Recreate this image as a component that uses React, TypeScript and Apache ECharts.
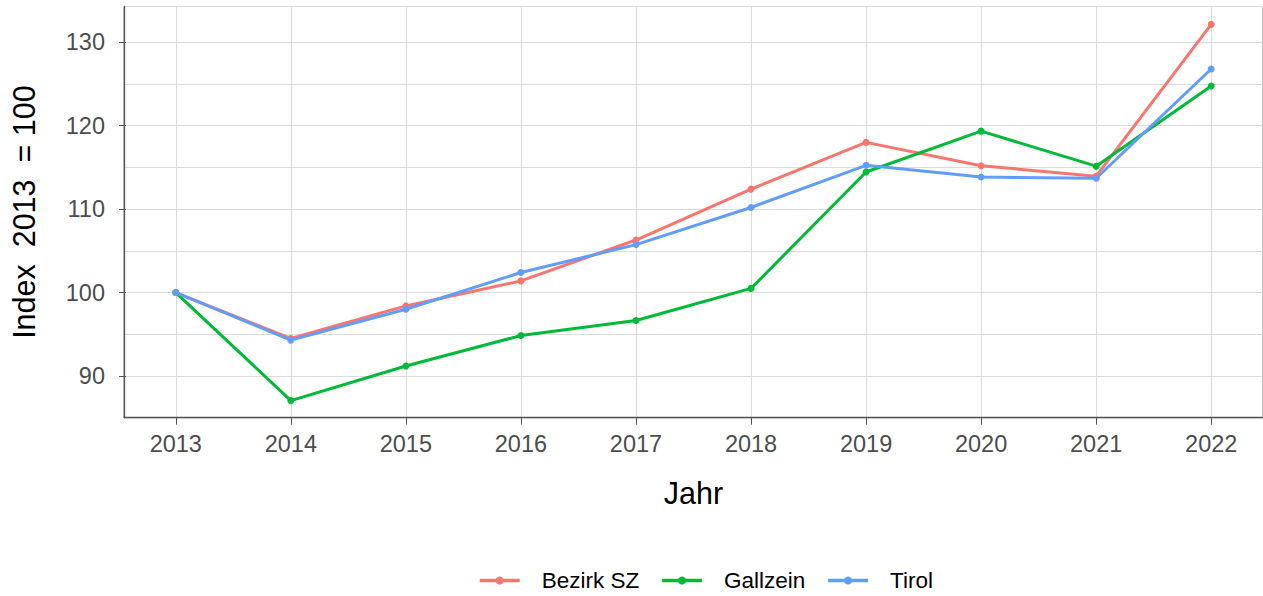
import React, { useEffect, useRef } from "react";
import * as echarts from "echarts";

const years = [2013, 2014, 2015, 2016, 2017, 2018, 2019, 2020, 2021, 2022];
const bezirkSZ = [100, 94.5, 98.4, 101.4, 106.3, 112.4, 118.0, 115.2, 113.95, 132.15];
const gallzein = [100, 87.05, 91.2, 94.85, 96.65, 100.5, 114.45, 119.35, 115.15, 124.75];
const tirol = [100, 94.3, 98.0, 102.4, 105.75, 110.2, 115.25, 113.85, 113.7, 126.8];
const yTicks = [90, 100, 110, 120, 130];
const seriesNames = ["Bezirk SZ", "Gallzein", "Tirol"];
const colors = ["#F8766D", "#00BA38", "#619CFF"];

const FONT = "Liberation Sans, Arial, sans-serif";

export default function App() {
  const ref = useRef<HTMLDivElement>(null);
  useEffect(() => {
    document.body.style.margin = "0";
    if (!ref.current) return;
    const chart = echarts.init(ref.current, undefined, { renderer: "svg" });
    const gridPos = { left: 124, top: 6.5, width: 1141, height: 411.2 };
    const yMin = 85;
    const yMax = 134.29;
    const xMin = 2012.55;
    const xMax = 2022.45;
    const allSeries = [bezirkSZ, gallzein, tirol];
    chart.setOption({
      animation: false,
      textStyle: { fontFamily: FONT },
      grid: [
        { ...gridPos, show: true, borderColor: "#8a8a8a", borderWidth: 1, backgroundColor: "transparent" },
        { ...gridPos, show: false },
      ],
      xAxis: [
        {
          type: "value",
          gridIndex: 0,
          min: xMin,
          max: xMax,
          name: "Jahr",
          nameLocation: "middle",
          nameGap: 60,
          nameTextStyle: { fontSize: 30.5, color: "#000", fontFamily: FONT },
          axisLine: { show: true, lineStyle: { color: "#555", width: 1.3 } },
          axisTick: { show: true, length: 7, customValues: years, lineStyle: { color: "#555" } },
          axisLabel: { customValues: years, fontSize: 23.5, color: "#4D4D4D", margin: 14, formatter: (v: number) => String(v), fontFamily: FONT },
          splitLine: { show: true, lineStyle: { color: "#DCDCDC", width: 1 } },
        },
        {
          type: "value",
          gridIndex: 1,
          min: xMin,
          max: xMax,
          show: false,
        },
      ],
      yAxis: [
        {
          type: "value",
          gridIndex: 0,
          min: yMin,
          max: yMax,
          interval: 5,
          axisLine: { show: true, lineStyle: { color: "#555", width: 1.3 } },
          axisTick: { show: false },
          axisLabel: { show: false },
          splitLine: { show: true, lineStyle: { color: "#DCDCDC", width: 1 } },
        },
        {
          type: "value",
          gridIndex: 1,
          min: yMin,
          max: yMax,
          name: "Index  2013  = 100",
          nameLocation: "middle",
          nameGap: 87,
          nameTextStyle: { fontSize: 30.5, color: "#000", fontFamily: FONT },
          axisLine: { show: false },
          axisTick: { show: true, length: 7, customValues: yTicks, lineStyle: { color: "#555" } },
          axisLabel: { customValues: yTicks, fontSize: 23.5, color: "#4D4D4D", margin: 21, fontFamily: FONT },
          splitLine: { show: false },
        },
      ],
      legend: {
        left: 473,
        top: 564,
        itemWidth: 40,
        itemHeight: 10,
        itemGap: 21,
        data: seriesNames,
        lineStyle: { width: 3.5 },
        textStyle: { fontSize: 22.5, color: "#000", fontFamily: FONT, padding: [0, 0, 0, 17] },
      },
      series: seriesNames.map((name, i) => ({
        name,
        type: "line",
        xAxisIndex: 0,
        yAxisIndex: 0,
        data: years.map((y, j) => [y, allSeries[i][j]]),
        symbol: "circle",
        symbolSize: 7,
        showSymbol: true,
        lineStyle: { color: colors[i], width: 3 },
        itemStyle: { color: colors[i] },
        color: colors[i],
      })),
    });
    return () => chart.dispose();
  }, []);
  return <div ref={ref} style={{ width: 1263, height: 596 }} />;
}
